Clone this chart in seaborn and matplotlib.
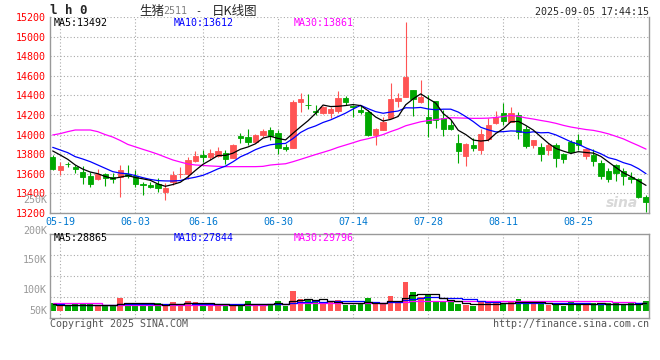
import matplotlib
matplotlib.use("Agg")
import matplotlib.pyplot as plt
import seaborn as sns
import numpy as np
import pandas as pd

# daily K-line data, lean hog futures 2511
opens = [13775, 13640, 13705, 13673, 13622, 13578, 13547, 13598, 13571, 13564,
         13595, 13578, 13496, 13486, 13496, 13418, 13520, 13595, 13598, 13734,
         13792, 13768, 13782, 13809, 13765, 13986, 13972, 13925, 13996, 14047,
         14020, 13874, 13867, 14336, 14305, 14244, 14224, 14224, 14244, 14370,
         14290, 14251, 14234, 13996, 14047, 14166, 14346, 14387, 14455, 14336,
         14183, 14343, 14173, 14098, 13911, 13782, 13894, 13843, 13952, 14115,
         14224, 14132, 14200, 14057, 13894, 13870, 13843, 13894, 13802, 13928,
         13945, 13785, 13792, 13707, 13629, 13690, 13632, 13571, 13547, 13367]
highs = [13792, 13724, 13724, 13690, 13680, 13622, 13646, 13612, 13605, 13690,
         13690, 13639, 13520, 13520, 13554, 13503, 13629, 13666, 13775, 13833,
         13843, 13850, 13870, 13843, 13900, 14013, 14054, 14006, 14054, 14081,
         14047, 13904, 14350, 14421, 14414, 14302, 14292, 14285, 14445, 14394,
         14302, 14302, 14251, 14064, 14183, 14523, 14421, 15150, 14455, 14557,
         14404, 14343, 14251, 14149, 14006, 13911, 13962, 14057, 14166, 14244,
         14326, 14285, 14234, 14091, 13945, 13911, 13911, 13911, 13816, 13945,
         14006, 13860, 13850, 13741, 13656, 13700, 13656, 13622, 13554, 13384]
lows = [13640, 13588, 13666, 13605, 13496, 13462, 13537, 13476, 13503, 13367,
        13554, 13469, 13384, 13452, 13418, 13333, 13486, 13554, 13544, 13720,
        13724, 13741, 13770, 13700, 13760, 13918, 13894, 13918, 13972, 13945,
        13802, 13829, 13860, 14234, 14261, 14200, 14210, 14166, 14224, 14302,
        14176, 14210, 13986, 13894, 14047, 14166, 14285, 14387, 14190, 14326,
        13979, 14064, 13986, 14047, 13714, 13680, 13836, 13802, 13935, 14108,
        14098, 14125, 13955, 13860, 13860, 13734, 13792, 13673, 13714, 13809,
        13843, 13751, 13680, 13547, 13513, 13530, 13486, 13510, 13350, 13214]
closes = [13646, 13680, 13698, 13646, 13571, 13496, 13595, 13554, 13544, 13639,
          13578, 13496, 13486, 13469, 13452, 13459, 13588, 13602, 13741, 13782,
          13768, 13809, 13833, 13748, 13894, 13969, 13925, 13996, 14037, 13986,
          13860, 13850, 14336, 14363, 14298, 14234, 14278, 14258, 14377, 14336,
          14282, 14227, 13996, 14057, 14132, 14363, 14377, 14591, 14360, 14387,
          14122, 14149, 14057, 14057, 13836, 13904, 13867, 14006, 14098, 14183,
          14142, 14224, 14030, 13887, 13945, 13802, 13894, 13765, 13751, 13826,
          13894, 13850, 13734, 13581, 13544, 13612, 13578, 13544, 13360, 13316]
volumes = [28600, 19500, 19500, 24700, 24700, 24700, 22100, 19500, 19500, 50700,
           31200, 22100, 22100, 22100, 29900, 22100, 33800, 22100, 37700, 33800,
           28600, 19500, 19500, 24700, 22100, 22100, 37700, 24700, 22100, 24700,
           37700, 19500, 76700, 45500, 41600, 32500, 28600, 32500, 41600, 22100,
           22100, 28600, 50700, 28600, 28600, 58500, 28600, 111800, 72800, 54600,
           61100, 32500, 32500, 32500, 26000, 22100, 19500, 32500, 32500, 28600,
           28600, 32500, 45500, 28600, 28600, 28600, 22100, 28600, 19500, 37700,
           28600, 22100, 28600, 28600, 28600, 28600, 24700, 28600, 24700, 37700]

# moving-average values before the window has enough history
ma5_head = [13833, 13792, 13748, 13690]
ma10_head = [13870, 13843, 13816, 13775, 13751, 13724, 13690, 13656, 13622]
ma30_head = [13996, 14010, 14030, 14047, 14047, 14047, 14030, 14000, 13975, 13940,
             13900, 13875, 13850, 13826, 13800, 13770, 13741, 13720, 13700, 13690,
             13685, 13680, 13676, 13673, 13673, 13673, 13673, 13673, 13676]
vma5_head = [26000, 24000, 22000, 22000]
vma10_head = [25000, 24500, 24000, 23500, 23500, 23000, 23000, 23500, 24000]
vma30_head = [28600] * 7 + [24000] * 22

tick_days = ['05-19', '06-03', '06-16', '06-30', '07-14', '07-28', '08-11', '08-25']
price_ticks = list(range(13200, 15201, 200))
vol_labels = ['250K', '200K', '150K', '100K', '50K']

RED = '#ff5454'
GREEN = '#00a800'
GRID = '#aaaaaa'
FRAME = '#999999'
MONO = 'DejaVu Sans Mono'
FS = 7.2


def with_head(values, window, head):
    ma = pd.Series(values, dtype=float).rolling(window).mean().to_numpy()
    ma[:len(head)] = head
    return ma


trade_days = pd.bdate_range('2025-05-16', '2025-09-05')
trade_days = trade_days[trade_days != pd.Timestamp('2025-06-02')]
day_labels = list(trade_days.strftime('%m-%d'))
tick_pos = [day_labels.index(d) for d in tick_days]

x = np.arange(len(closes))
o = np.array(opens, dtype=float)
c = np.array(closes, dtype=float)
colors = np.where(c >= o, RED, GREEN)

ma5 = with_head(closes, 5, ma5_head)
ma10 = with_head(closes, 10, ma10_head)
ma30 = with_head(closes, 30, ma30_head)
vma5 = with_head(volumes, 5, vma5_head)
vma10 = with_head(volumes, 10, vma10_head)
vma30 = with_head(volumes, 30, vma30_head)

sns.set_style("white")
plt.rcParams['font.family'] = [MONO, 'Noto Sans CJK SC']

W, H = 660, 360
fig = plt.figure(figsize=(6.6, 3.6), dpi=100)
ax = fig.add_axes([50 / W, 147 / H, 599 / W, 196 / H])
axv = fig.add_axes([50 / W, 42 / H, 599 / W, 84 / H])

# --- price panel
ax.vlines(x, lows, highs, colors=colors, lw=0.8, zorder=2)
ax.bar(x, c - o, bottom=o, width=0.72, color=colors, edgecolor=colors,
       linewidth=0.6, zorder=3)
sns.lineplot(x=x, y=ma30, ax=ax, color='#ff00ff', lw=0.9, zorder=4)
sns.lineplot(x=x, y=ma10, ax=ax, color='#0000ff', lw=0.9, zorder=4)
sns.lineplot(x=x, y=ma5, ax=ax, color='black', lw=0.9, zorder=5)

ax.set_xlim(-0.36, 79.4)
ax.set_ylim(13200, 15200)
ax.set_yticks(price_ticks)
ax.set_yticklabels([str(p) for p in price_ticks], color='red', fontsize=FS)
ax.set_xticks(tick_pos)
ax.set_xticklabels(tick_days, color='#0078d0', fontsize=FS)
ax.tick_params(length=0, pad=3)
ax.grid(True, color=GRID, linestyle=(0, (1, 2)), lw=0.8)
ax.set_xlabel('')
ax.set_ylabel('')

# --- volume panel
axv.bar(x, volumes, width=0.75, color=colors, linewidth=0, zorder=2)
sns.lineplot(x=x, y=vma30, ax=axv, color='#ff00ff', lw=0.9, drawstyle='steps-mid', zorder=3)
sns.lineplot(x=x, y=vma10, ax=axv, color='#0000ff', lw=0.9, drawstyle='steps-mid', zorder=3)
sns.lineplot(x=x, y=vma5, ax=axv, color='black', lw=0.9, drawstyle='steps-mid', zorder=4)
axv.set_xlim(-0.36, 79.4)
vlo, vhi = -28500, 299100
axv.set_ylim(vlo, vhi)
axv.set_yticks([vlo + f * (vhi - vlo) for f in (0.25, 0.5, 0.75)])
axv.set_yticklabels([])
axv.set_xticks(tick_pos)
axv.set_xticklabels([])
axv.tick_params(length=0)
axv.grid(True, color=GRID, linestyle=(0, (1, 2)), lw=0.8)
axv.set_xlabel('')
axv.set_ylabel('')

for a in (ax, axv):
    for s in a.spines.values():
        s.set_color(FRAME)
        s.set_linewidth(1.0)
ax.spines['top'].set_visible(False)


def ftext(px, py, s, **kw):
    kw.setdefault('fontsize', FS)
    kw.setdefault('va', 'center')
    fig.text(px / W, 1 - py / H, s, **kw)


# header
ftext(50, 11, 'l h 0', fontsize=9, fontweight='bold')
ftext(139, 11.5, '生猪', family='Noto Sans CJK SC', fontsize=9)
ftext(163, 11.5, '2511', color='#808080')
ftext(198.5, 11.5, '-', ha='center')
ftext(212, 11.5, '日K线图', family='Noto Sans CJK SC', fontsize=9)
ftext(649, 12.3, '2025-09-05 17:44:15', ha='right')

# MA legends
for py, vals in ((23.3, ('MA5:13492', 'MA10:13612', 'MA30:13861')),
                 (238.3, ('MA5:28865', 'MA10:27844', 'MA30:29796'))):
    for px, s, col in zip((54, 174, 294), vals, ('black', '#0000ff', '#ff00ff')):
        ftext(px, py, s, color=col)

# volume axis labels
for py, s in zip((200, 230.7, 260, 290, 310.7), vol_labels):
    ftext(47, py, s, ha='right', color='#999999')

# watermark + footer
ftext(622, 203, 'sina', color='#d8d8d8', fontsize=10, fontweight='bold',
      style='italic', ha='center', family='DejaVu Sans')
ftext(50, 323.7, 'Copyright 2025 SINA.COM', color='#555555')
ftext(649, 323.7, 'http://finance.sina.com.cn', ha='right', color='#555555')

fig.savefig('out.png', dpi=100, facecolor='white')
